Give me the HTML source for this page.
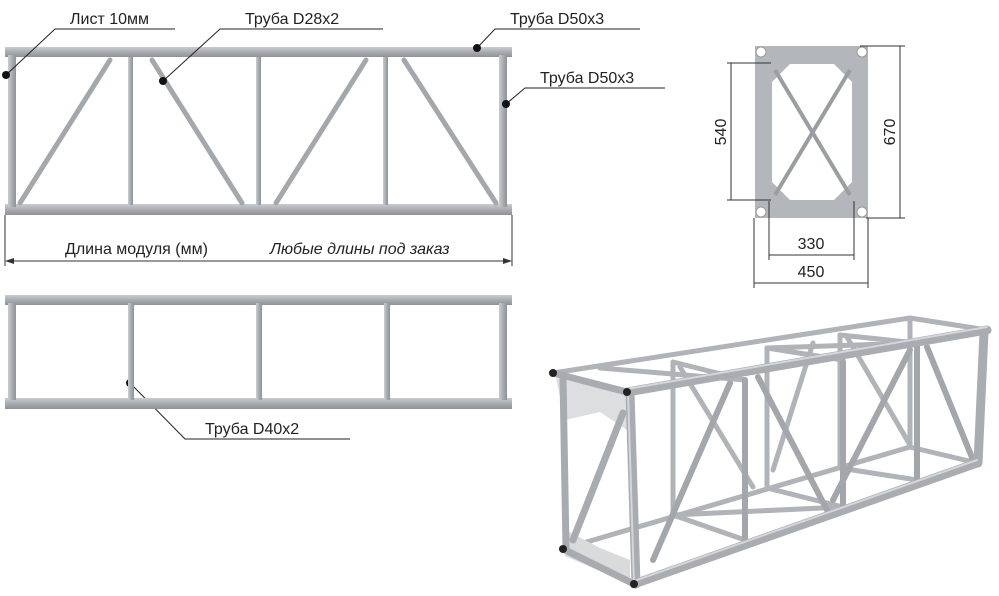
<!DOCTYPE html>
<html><head><meta charset="utf-8"><style>
html,body{margin:0;padding:0;background:#fff;}
svg{display:block}
text{font-family:"Liberation Sans","DejaVu Sans",sans-serif;fill:#222;}
</style></head><body>
<svg width="999" height="596" viewBox="0 0 999 596" xmlns="http://www.w3.org/2000/svg">
<defs>
<linearGradient id="h" x1="0" y1="0" x2="0" y2="1"><stop offset="0" stop-color="#c9ccd0"/><stop offset=".5" stop-color="#a9adb2"/><stop offset="1" stop-color="#8e9297"/></linearGradient>
<linearGradient id="v" x1="0" y1="0" x2="1" y2="0"><stop offset="0" stop-color="#c9ccd0"/><stop offset=".5" stop-color="#a9adb2"/><stop offset="1" stop-color="#8e9297"/></linearGradient>
</defs>
<!-- front panel -->
<g fill="url(#h)">
<rect x="5" y="47" width="507" height="10"/>
<rect x="5" y="204" width="507" height="11"/>
</g>
<g fill="url(#v)">
<rect x="8" y="55" width="8" height="152"/>
<rect x="499" y="55" width="8" height="152"/>
<rect x="128" y="57" width="5" height="148"/>
<rect x="256" y="57" width="5" height="148"/>
<rect x="383" y="57" width="5" height="148"/>
</g>
<g stroke="#a4a8ad" stroke-width="5" stroke-linecap="round">
<line x1="20" y1="203" x2="110" y2="60"/>
<line x1="152" y1="60" x2="242" y2="203"/>
<line x1="276" y1="203" x2="366" y2="60"/>
<line x1="404" y1="60" x2="496" y2="203"/>
</g>
<!-- dimension -->
<g stroke="#333" stroke-width="1" fill="none">
<line x1="5" y1="215" x2="5" y2="266"/><line x1="512" y1="215" x2="512" y2="266"/>
<line x1="6" y1="261" x2="511" y2="261"/>
</g>
<polygon points="5,261 14,258 14,264" fill="#333"/><polygon points="512,261 503,258 503,264" fill="#333"/>
<text x="65" y="254" font-size="16">Длина модуля (мм)</text>
<text x="270" y="254" font-size="16" font-style="italic">Любые длины под заказ</text>
<!-- labels -->
<g stroke="#222" stroke-width="1" fill="none">
<polyline points="6,75 55,29 175,29"/>
<polyline points="163,81 220,29 383,29"/>
<polyline points="477,48 495,29 640,29"/>
<polyline points="506,104 525,88 665,88"/>
<polyline points="130,383 185,439 350,439"/>
</g>
<g fill="#111"><circle cx="6" cy="75" r="4"/><circle cx="163" cy="81" r="4"/><circle cx="477" cy="48" r="4"/><circle cx="506" cy="104" r="4"/><circle cx="130" cy="383" r="4"/></g>
<text x="70" y="24" font-size="16">Лист 10мм</text>
<text x="245" y="24" font-size="16">Труба D28x2</text>
<text x="510" y="24" font-size="16">Труба D50x3</text>
<text x="540" y="83" font-size="16">Труба D50x3</text>
<text x="205" y="434" font-size="16">Труба D40x2</text>
<!-- second panel -->
<g fill="url(#h)">
<rect x="5" y="295" width="507" height="10"/>
<rect x="5" y="398" width="507" height="11"/>
</g>
<g fill="url(#v)">
<rect x="8" y="303" width="8" height="97"/>
<rect x="499" y="303" width="8" height="97"/>
<rect x="128" y="303" width="6" height="97"/>
<rect x="256" y="303" width="6" height="97"/>
<rect x="384" y="303" width="6" height="97"/>
</g>
<!-- end view -->
<rect x="755" y="46" width="113" height="172" fill="#b3b6ba"/>
<rect x="772" y="64" width="80" height="136" fill="#fff"/>
<polygon points="772,64 790,64 772,82" fill="#b3b6ba"/><polygon points="852,64 834,64 852,82" fill="#b3b6ba"/>
<polygon points="772,200 790,200 772,182" fill="#b3b6ba"/><polygon points="852,200 834,200 852,182" fill="#b3b6ba"/>
<g stroke="#9a9ea3" stroke-width="4"><line x1="775" y1="70" x2="850" y2="195"/><line x1="850" y1="70" x2="775" y2="195"/></g>
<g fill="#fff" stroke="#999"><circle cx="761" cy="52" r="5"/><circle cx="862" cy="52" r="5"/><circle cx="761" cy="212" r="5"/><circle cx="862" cy="212" r="5"/></g>
<g stroke="#333" stroke-width="1" fill="none">
<line x1="860" y1="46" x2="905" y2="46"/><line x1="866" y1="218" x2="905" y2="218"/><line x1="900" y1="46" x2="900" y2="218"/>
<line x1="727" y1="63" x2="771" y2="63"/><line x1="727" y1="200" x2="771" y2="200"/><line x1="731" y1="63" x2="731" y2="200"/>
<line x1="769" y1="201" x2="769" y2="260"/><line x1="854" y1="201" x2="854" y2="260"/><line x1="769" y1="255" x2="854" y2="255"/>
<line x1="754" y1="218" x2="754" y2="288"/><line x1="868" y1="218" x2="868" y2="288"/><line x1="754" y1="283" x2="868" y2="283"/>
</g>
<text x="811" y="249" font-size="16" text-anchor="middle">330</text>
<text x="811" y="277" font-size="16" text-anchor="middle">450</text>
<text transform="translate(726,132) rotate(-90)" font-size="16" text-anchor="middle">540</text>
<text transform="translate(895,132) rotate(-90)" font-size="16" text-anchor="middle">670</text>
<!-- 3D truss -->
<g stroke-linecap="round" fill="none">
<g stroke="#b0b3b7" stroke-width="5">
<line x1="553" y1="373" x2="910" y2="318"/>
<line x1="563" y1="549" x2="910" y2="447"/>
<line x1="910" y1="318" x2="910" y2="447"/>
<line x1="673" y1="362" x2="673" y2="515"/>
<line x1="767" y1="348" x2="767" y2="488"/>
<line x1="840" y1="335" x2="840" y2="468"/>
<line x1="680" y1="367" x2="753" y2="487"/>
<line x1="813" y1="343" x2="773" y2="470"/>
<line x1="847" y1="337" x2="910" y2="445"/>
<line x1="673" y1="362" x2="745" y2="380"/>
<line x1="767" y1="348" x2="843" y2="360"/>
<line x1="840" y1="335" x2="917" y2="343"/>
<line x1="910" y1="318" x2="987" y2="330"/>
<line x1="600" y1="368" x2="745" y2="380"/>
<line x1="767" y1="348" x2="917" y2="343"/>
<line x1="673" y1="515" x2="745" y2="540"/>
<line x1="767" y1="488" x2="843" y2="507"/>
<line x1="840" y1="468" x2="917" y2="480"/>
<line x1="910" y1="447" x2="977" y2="463"/>
<line x1="673" y1="515" x2="843" y2="507"/>
</g>
<polygon points="556,378 627,395 627,430 600,412 565,420" fill="#dcdee0"/>
<polygon points="562,528 600,548 630,560 630,584 565,556" fill="#d8dadc"/>
<g stroke="#a8acb0" stroke-width="7">
<line x1="563" y1="378" x2="566" y2="549"/>
<line x1="573" y1="540" x2="623" y2="413"/>
<line x1="563" y1="549" x2="634" y2="584"/>
<line x1="553" y1="373" x2="627" y2="392"/>
</g>
<g stroke="#a3a7ac" stroke-width="6">
<line x1="653" y1="560" x2="730" y2="383"/>
<line x1="758" y1="377" x2="827" y2="510"/>
<line x1="833" y1="500" x2="910" y2="350"/>
<line x1="927" y1="347" x2="973" y2="460"/>
<line x1="745" y1="380" x2="745" y2="540"/>
<line x1="843" y1="362" x2="843" y2="507"/>
<line x1="917" y1="345" x2="917" y2="480"/>
</g>
<g stroke="#a9adb2" stroke-width="9">
<line x1="627" y1="392" x2="987" y2="330"/>
<line x1="634" y1="584" x2="977" y2="463"/>
<line x1="984" y1="332" x2="978" y2="463"/>
<line x1="630" y1="392" x2="636" y2="584"/>
</g>
<g stroke="#d4d6d9" stroke-width="2">
<line x1="627" y1="389" x2="987" y2="327"/>
<line x1="634" y1="581" x2="977" y2="460"/>
<line x1="628" y1="392" x2="634" y2="584"/>
</g>
</g>
<g fill="#222"><circle cx="553" cy="373" r="4"/><circle cx="627" cy="392" r="4"/><circle cx="563" cy="549" r="4"/><circle cx="634" cy="584" r="4"/></g>
</svg>
</body></html>
